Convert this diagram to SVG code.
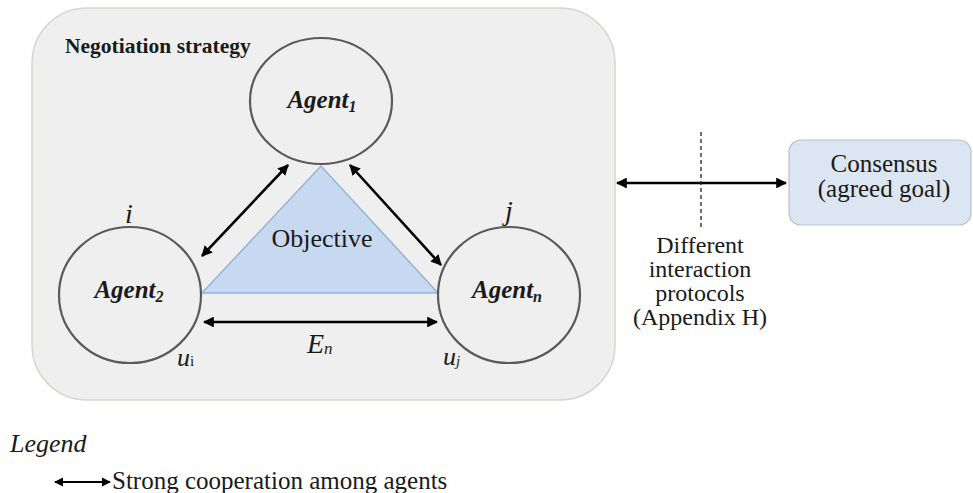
<svg xmlns="http://www.w3.org/2000/svg" width="973" height="493" viewBox="0 0 973 493">
<defs>
<marker id="ah" viewBox="0 0 10 10" refX="9" refY="5" markerWidth="4.2" markerHeight="4.2" orient="auto-start-reverse" markerUnits="strokeWidth">
<path d="M0,0 L10,5 L0,10 z" fill="#000"/>
</marker>
</defs>
<rect width="973" height="493" fill="#fff"/>
<g id="strategy">
<rect x="32" y="8" width="583" height="392" rx="55" ry="55" fill="#efefef" stroke="#d6d6d0" stroke-width="1.5"/>
<text x="65" y="53" font-family="Liberation Serif" font-size="21.5" font-weight="bold" fill="#1a1a1a">Negotiation strategy</text>
</g>
<g id="objective">
<polygon points="321,166 202,293 438,293" fill="#c6d9f1" stroke="#95b3d7" stroke-width="1.5"/>
<text x="322" y="247" font-family="Liberation Serif" font-size="26" text-anchor="middle" fill="#1a1a1a">Objective</text>
</g>
<g id="agent1">
<ellipse cx="321" cy="101" rx="71" ry="63" fill="none" stroke="#5a5a5a" stroke-width="2.2"/>
<text x="322" y="108" font-family="Liberation Serif" font-size="25" font-weight="bold" font-style="italic" text-anchor="middle" fill="#1a1a1a">Agent<tspan font-size="16" dy="4">1</tspan></text>
</g>
<g id="agent2">
<ellipse cx="130" cy="295" rx="71" ry="68" fill="none" stroke="#5a5a5a" stroke-width="2.2"/>
<text x="129" y="298" font-family="Liberation Serif" font-size="25" font-weight="bold" font-style="italic" text-anchor="middle" fill="#1a1a1a">Agent<tspan font-size="16" dy="4">2</tspan></text>
<text x="125" y="223" font-family="Liberation Serif" font-size="28" font-style="italic" fill="#1a1a1a">i</text>
<text x="177" y="366" font-family="Liberation Serif" font-size="26" font-style="italic" fill="#1a1a1a">u<tspan font-size="15" font-style="normal">i</tspan></text>
</g>
<g id="agentn">
<ellipse cx="509" cy="295" rx="71" ry="68" fill="none" stroke="#5a5a5a" stroke-width="2.2"/>
<text x="507" y="298" font-family="Liberation Serif" font-size="25" font-weight="bold" font-style="italic" text-anchor="middle" fill="#1a1a1a">Agent<tspan font-size="16" dy="4">n</tspan></text>
<text x="505" y="220" font-family="Liberation Serif" font-size="28" font-style="italic" fill="#1a1a1a">j</text>
<text x="443" y="365" font-family="Liberation Serif" font-size="26" font-style="italic" fill="#1a1a1a">u<tspan font-size="15" dy="1">j</tspan></text>
</g>
<g id="consensus">
<rect x="789" y="140" width="182" height="85" rx="12" ry="12" fill="#dce6f2" stroke="#b8c2cc" stroke-width="1.2"/>
<text x="884" y="172" font-family="Liberation Serif" font-size="25" text-anchor="middle" fill="#1a1a1a">Consensus</text>
<text x="884" y="197" font-family="Liberation Serif" font-size="25" text-anchor="middle" fill="#1a1a1a">(agreed goal)</text>
</g>
<g id="protocols">
<text font-family="Liberation Serif" font-size="24" text-anchor="middle" fill="#1a1a1a"><tspan x="700" y="253">Different</tspan><tspan x="700" y="277">interaction</tspan><tspan x="700" y="301">protocols</tspan><tspan x="700" y="325">(Appendix H)</tspan></text>
</g>
<g id="connectors" stroke="#000" stroke-width="2.6" fill="none">
<line x1="288" y1="165" x2="202" y2="256" marker-start="url(#ah)" marker-end="url(#ah)"/>
<line x1="350" y1="165" x2="441" y2="265" marker-start="url(#ah)" marker-end="url(#ah)"/>
<line x1="204" y1="322" x2="437" y2="322" marker-start="url(#ah)" marker-end="url(#ah)"/>
<line x1="617" y1="183" x2="786" y2="183" marker-start="url(#ah)" marker-end="url(#ah)"/>
<line x1="701" y1="132" x2="701" y2="227" stroke="#222" stroke-width="1.3" stroke-dasharray="4,3"/>
<text x="307" y="353" font-family="Liberation Serif" font-size="28" font-style="italic" fill="#1a1a1a" stroke="none">E<tspan font-size="17" dy="1">n</tspan></text>
</g>
<g id="legend">
<text x="10" y="452" font-family="Liberation Serif" font-size="26" font-style="italic" fill="#1a1a1a">Legend</text>
<line x1="55" y1="482" x2="110" y2="482" stroke="#000" stroke-width="2.2" marker-start="url(#ah)" marker-end="url(#ah)"/>
<text x="112" y="489" font-family="Liberation Serif" font-size="25" fill="#1a1a1a">Strong cooperation among agents</text>
</g>
</svg>
